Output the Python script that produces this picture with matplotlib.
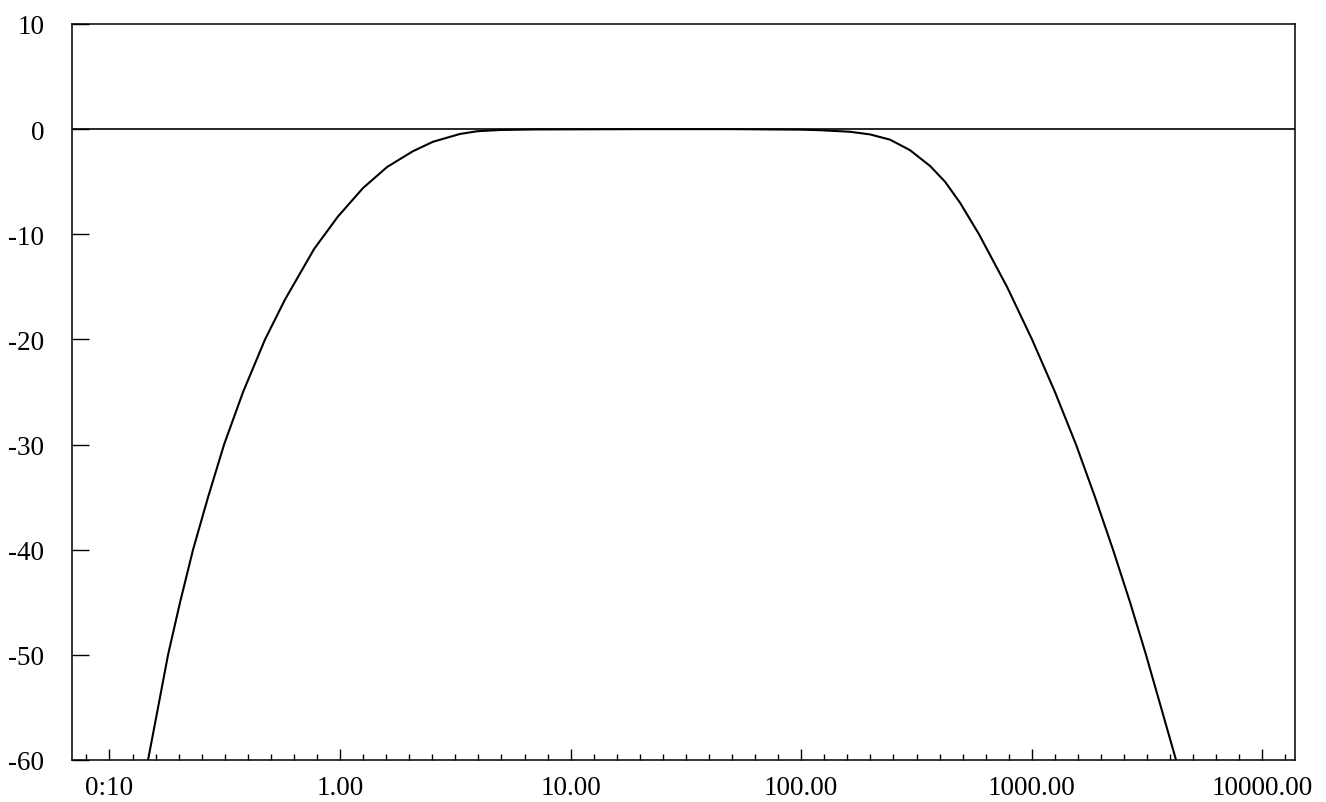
import matplotlib
matplotlib.use("Agg")
import matplotlib.pyplot as plt
from matplotlib.ticker import FixedLocator, NullFormatter

# Frequency (log axis) and gain in dB
freq = [0.147, 0.1625, 0.1795, 0.2024, 0.2304, 0.2677, 0.3141, 0.3797, 0.4729, 0.5774,
        0.7717, 0.980, 1.258, 1.60, 2.07, 2.53, 3.31, 3.93, 4.94,
        7.0, 20.0, 50.0, 100.0, 120.6, 162.8, 198.7, 242.7, 296.3, 361.9, 420.4, 488.3,
        590.2, 780.7, 1002.0, 1260.0, 1555.0, 1880.0, 2250.0, 2667.0, 3128.0, 3634.0, 4221.0]
gain = [-60.0, -55.0, -50.0, -45.0, -40.0, -35.0, -30.0, -25.0, -20.0, -16.2,
        -11.4, -8.3, -5.6, -3.6, -2.1, -1.2, -0.46, -0.2, -0.08,
        -0.03, 0.0, 0.0, -0.05, -0.1, -0.25, -0.5, -1.0, -2.0, -3.5, -5.0, -7.0,
        -10.0, -15.0, -20.0, -25.0, -30.0, -35.0, -40.0, -45.0, -50.0, -55.0, -60.0]

major_ticks = [0.1, 1, 10, 100, 1000, 10000]
major_labels = ["0:10", "1.00", "10.00", "100.00", "1000.00", "10000.00"]
y_ticks = [10, 0, -10, -20, -30, -40, -50, -60]
y_labels = ["10", "0", "-10", "-20", "-30", "-40", "-50", "-60"]

plt.rcParams['font.family'] = ['Liberation Serif', 'DejaVu Serif']

fig = plt.figure(figsize=(13.26, 8.03), dpi=100)
ax = fig.add_axes([72/1326, 1 - 761/803, (1295-72)/1326, (761-25)/803])

ax.plot(freq, gain, color='black', lw=1.5, solid_joinstyle='round', solid_capstyle='round')
ax.axhline(0, color='black', lw=1.2)

ax.set_xscale('log')
ax.set_xlim(0.0688, 13846)
ax.set_ylim(-60, 10)

minor = []
for d in range(-2, 5):
    for k in range(1, 10):
        minor.append(10 ** (d + k / 10))
ax.xaxis.set_major_locator(FixedLocator(major_ticks))
ax.xaxis.set_minor_locator(FixedLocator(minor))
ax.xaxis.set_minor_formatter(NullFormatter())
ax.set_xticks(major_ticks)
ax.set_xticklabels(major_labels)
ax.set_yticks(y_ticks)
ax.set_yticklabels(y_labels)

ax.tick_params(axis='x', which='major', direction='in', length=8, width=1.0,
               labelsize=19.5, pad=11)
ax.tick_params(axis='x', which='minor', direction='in', length=4.5, width=1.0)
ax.tick_params(axis='y', which='major', direction='in', length=12, width=1.0,
               labelsize=19.5, pad=20)
for s in ax.spines.values():
    s.set_linewidth(1.1)

fig.savefig("out.png", dpi=100)
